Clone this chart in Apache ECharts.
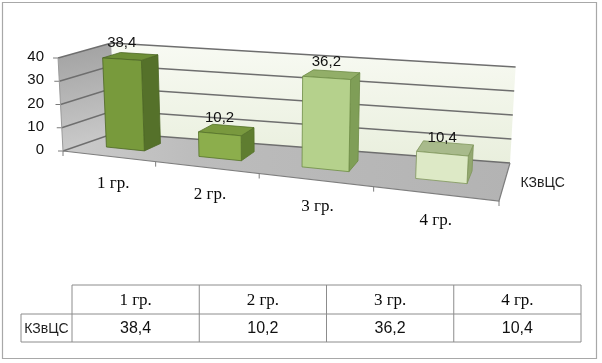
<!DOCTYPE html>
<html>
<head>
<meta charset="utf-8">
<script src="https://cdn.jsdelivr.net/npm/echarts@6/dist/echarts.min.js"></script>
<style>
html,body{margin:0;padding:0;background:#fff;}
#chart{width:602px;height:363px;}
</style>
</head>
<body>
<div id="chart"></div>
<script>
// ---- data ----
const categories = ['1 гр.', '2 гр.', '3 гр.', '4 гр.'];
const seriesName = 'КЗвЦС';
const values = [38.4, 10.2, 36.2, 10.4];
const valueTicks = [0, 10, 20, 30, 40];

// ---- styles / layout ----
const barStyles = [
  {front:'#789a3c', side:'#55712a', top:'#6d8e36', stroke:'#4c6724'},
  {front:'#8cae4c', side:'#5f7d30', top:'#79993e', stroke:'#55722a'},
  {front:'#b5d18c', side:'#7f9e57', top:'#92ae68', stroke:'#6d8c45'},
  {front:'#dde9c6', side:'#93a870', top:'#a8ba8b', stroke:'#7f965b'}
];
const FL = [63, 151], FR = [499, 201], BL = [115, 133], BR = [510, 163];
const HS = {fl: 1, fr: 2.85 / 2.325, bl: 2.25 / 2.325, br: 2.4 / 2.325};
const D1 = 0.36, D2 = 0.71, HALF = 0.053;
const fmt = v => String(v).replace('.', ',');

function proj(t, d, h) {
  const u = 0.8 * t + 0.2 * t * t;
  const fx = FL[0] + (FR[0] - FL[0]) * u, fy = FL[1] + (FR[1] - FL[1]) * u;
  const bx = BL[0] + (BR[0] - BL[0]) * u, by = BL[1] + (BR[1] - BL[1]) * u;
  const x = fx + (bx - fx) * d, y = fy + (by - fy) * d;
  const s = (1 - u) * (1 - d) * HS.fl + u * (1 - d) * HS.fr + (1 - u) * d * HS.bl + u * d * HS.br;
  const hh = h * s;
  return [x + (x - 276) * 0.00025 * hh, y - hh];
}

function renderFrame(params, api) {
  const base = api.coord([0, 0])[1];
  const hOf = v => base - api.coord([0, v])[1];
  const top = hOf(valueTicks[valueTicks.length - 1]);
  const ch = [];
  ch.push({type: 'polygon', shape: {points: [proj(0,0,0), proj(0,1,0), proj(0,1,top), proj(0,0,top)]},
    style: {fill: {type:'linear', x:0, y:0, x2:0.3, y2:1, colorStops:[{offset:0,color:'#a0a0a0'},{offset:1,color:'#cbcbcb'}]}}});
  ch.push({type: 'polygon', shape: {points: [proj(0,1,0), proj(1,1,0), proj(1,1,top), proj(0,1,top)]},
    style: {fill: {type:'linear', x:0, y:0, x2:0, y2:1, colorStops:[{offset:0,color:'#f8faf3'},{offset:1,color:'#e9efdd'}]}}});
  ch.push({type: 'polygon', shape: {points: [proj(0,0,0), proj(1,0,0), proj(1,1,0), proj(0,1,0)]},
    style: {fill: {type:'linear', x:0, y:0, x2:1, y2:0, colorStops:[{offset:0,color:'#cbcbcb'},{offset:0.3,color:'#bcbcbc'},{offset:1,color:'#b3b3b3'}]}}});
  valueTicks.forEach(v => {
    const h = hOf(v);
    ch.push({type: 'polyline', shape: {points: [proj(0,0,h), proj(0,1,h), proj(1,1,h)]},
      style: {stroke: '#6e6e6e', lineWidth: 1.4, fill: null}});
    const p = proj(0,0,h);
    ch.push({type: 'line', shape: {x1: p[0] - 5, y1: p[1], x2: p[0], y2: p[1]}, style: {stroke: '#7a7a7a', lineWidth: 1}});
  });
  ch.push({type: 'line', shape: {x1: proj(0,0,0)[0], y1: proj(0,0,0)[1], x2: proj(0,0,top)[0], y2: proj(0,0,top)[1]},
    style: {stroke: '#9a9a9a', lineWidth: 1}});
  ch.push({type: 'polyline', shape: {points: [proj(0,0,0), proj(1,0,0), proj(1,1,0)]},
    style: {stroke: '#7e7e7e', lineWidth: 1.2, fill: null}});
  for (let k = 0; k <= categories.length; k++) {
    const p = proj(k / categories.length, 0, 0);
    ch.push({type: 'line', shape: {x1: p[0], y1: p[1], x2: p[0], y2: p[1] + 5}, style: {stroke: '#7e7e7e', lineWidth: 1}});
  }
  const sp = proj(1, 0.5, 0);
  ch.push({type: 'text', x: sp[0] + 16, y: sp[1] + 1,
    style: {text: seriesName, font: '14px "Liberation Sans", Arial, sans-serif', fill: '#1e1e1e', align: 'left', verticalAlign: 'middle'}});
  return {type: 'group', children: ch};
}

function renderBar(params, api) {
  const i = params.dataIndex;
  const cs = params.coordSys;
  const c0 = api.coord([api.value(0), 0]);
  const cv = api.coord([api.value(0), api.value(1)]);
  const h = c0[1] - cv[1];
  const tc = (c0[0] - cs.x) / cs.width;
  const half = api.size([1, 0])[0] / cs.width * (HALF / 0.25);
  const t1 = tc - half, t2 = tc + half;
  const st = barStyles[i % barStyles.length];
  const fbl = proj(t1, D1, 0), fbr = proj(t2, D1, 0), ftl = proj(t1, D1, h), ftr = proj(t2, D1, h);
  const btl = proj(t1, D2, h), btr = proj(t2, D2, h), bbr = proj(t2, D2, 0);
  const ftc = proj(tc, D1, h);
  const ec = proj(tc, 0, 0);
  const u = 0.8 * tc + 0.2 * tc * tc;
  return {type: 'group', children: [
    {type: 'polygon', shape: {points: [fbr, bbr, btr, ftr]}, style: {fill: st.side, stroke: st.stroke, lineWidth: 0.8}},
    {type: 'polygon', shape: {points: [ftl, ftr, btr, btl]}, style: {fill: st.top, stroke: st.stroke, lineWidth: 0.8}},
    {type: 'polygon', shape: {points: [fbl, fbr, ftr, ftl]}, style: {fill: st.front, stroke: st.stroke, lineWidth: 0.8}},
    {type: 'text', x: ftc[0], y: ftc[1] - 16,
      style: {text: fmt(api.value(1)), font: '15px "Liberation Sans", Arial, sans-serif', fill: '#111', align: 'center', verticalAlign: 'middle'}},
    {type: 'text', x: ec[0] + 6 * (1 - u), y: ec[1] + 27,
      style: {text: categories[i], font: '17px "Liberation Serif", "Times New Roman", serif', fill: '#0a0a0a', align: 'center', verticalAlign: 'middle'}}
  ]};
}

// ---- data table ----
const tbl = {x0: 21, x1: 72, x2: 581, top: 285, mid: 314, bot: 342};
const graphics = [];
graphics.push({type: 'rect', shape: {x: 2.5, y: 2.5, width: 594, height: 356}, style: {fill: null, stroke: '#a8a8a8', lineWidth: 1.2}, silent: true});
const colW = (tbl.x2 - tbl.x1) / categories.length;
const lineStyle = {stroke: '#8c8c8c', lineWidth: 1};
graphics.push({type: 'line', shape: {x1: tbl.x1, y1: tbl.top, x2: tbl.x2, y2: tbl.top}, style: lineStyle});
graphics.push({type: 'line', shape: {x1: tbl.x0, y1: tbl.mid, x2: tbl.x2, y2: tbl.mid}, style: lineStyle});
graphics.push({type: 'line', shape: {x1: tbl.x0, y1: tbl.bot, x2: tbl.x2, y2: tbl.bot}, style: lineStyle});
graphics.push({type: 'line', shape: {x1: tbl.x0, y1: tbl.mid, x2: tbl.x0, y2: tbl.bot}, style: lineStyle});
for (let k = 0; k <= categories.length; k++) {
  const x = tbl.x1 + colW * k;
  graphics.push({type: 'line', shape: {x1: x, y1: tbl.top, x2: x, y2: tbl.bot}, style: lineStyle});
}
graphics.push({type: 'text', x: (tbl.x0 + tbl.x1) / 2, y: (tbl.mid + tbl.bot) / 2 + 1,
  style: {text: seriesName, font: '14px "Liberation Sans", Arial, sans-serif', fill: '#1e1e1e', align: 'center', verticalAlign: 'middle'}});
categories.forEach((c, k) => {
  const cx = tbl.x1 + colW * (k + 0.5);
  graphics.push({type: 'text', x: cx, y: (tbl.top + tbl.mid) / 2 + 1,
    style: {text: c, font: '17px "Liberation Serif", "Times New Roman", serif', fill: '#0a0a0a', align: 'center', verticalAlign: 'middle'}});
  graphics.push({type: 'text', x: cx, y: (tbl.mid + tbl.bot) / 2 + 1,
    style: {text: fmt(values[k]), font: '16px "Liberation Sans", Arial, sans-serif', fill: '#111', align: 'center', verticalAlign: 'middle'}});
});

const chart = echarts.init(document.getElementById('chart'), null, {renderer: 'canvas'});
chart.setOption({
  animation: false,
  backgroundColor: '#ffffff',
  grid: {left: 60, top: 57, width: 440, height: 93, containLabel: false},
  xAxis: {type: 'category', data: categories, show: false},
  yAxis: {type: 'value', min: 0, max: 40, interval: 10,
    axisLine: {show: false}, axisTick: {show: false}, splitLine: {show: false},
    axisLabel: {margin: 16, color: '#111', fontSize: 15, fontFamily: '"Liberation Sans", Arial, sans-serif'}},
  graphic: graphics,
  series: [
    {type: 'custom', name: 'frame', renderItem: renderFrame, data: [[0, 0]], clip: false, silent: true, z: 1},
    {type: 'custom', name: seriesName, renderItem: renderBar, data: values.map((v, i) => [i, v]),
      encode: {x: 0, y: 1}, clip: false, silent: true, z: 2}
  ]
});
</script>
</body>
</html>
